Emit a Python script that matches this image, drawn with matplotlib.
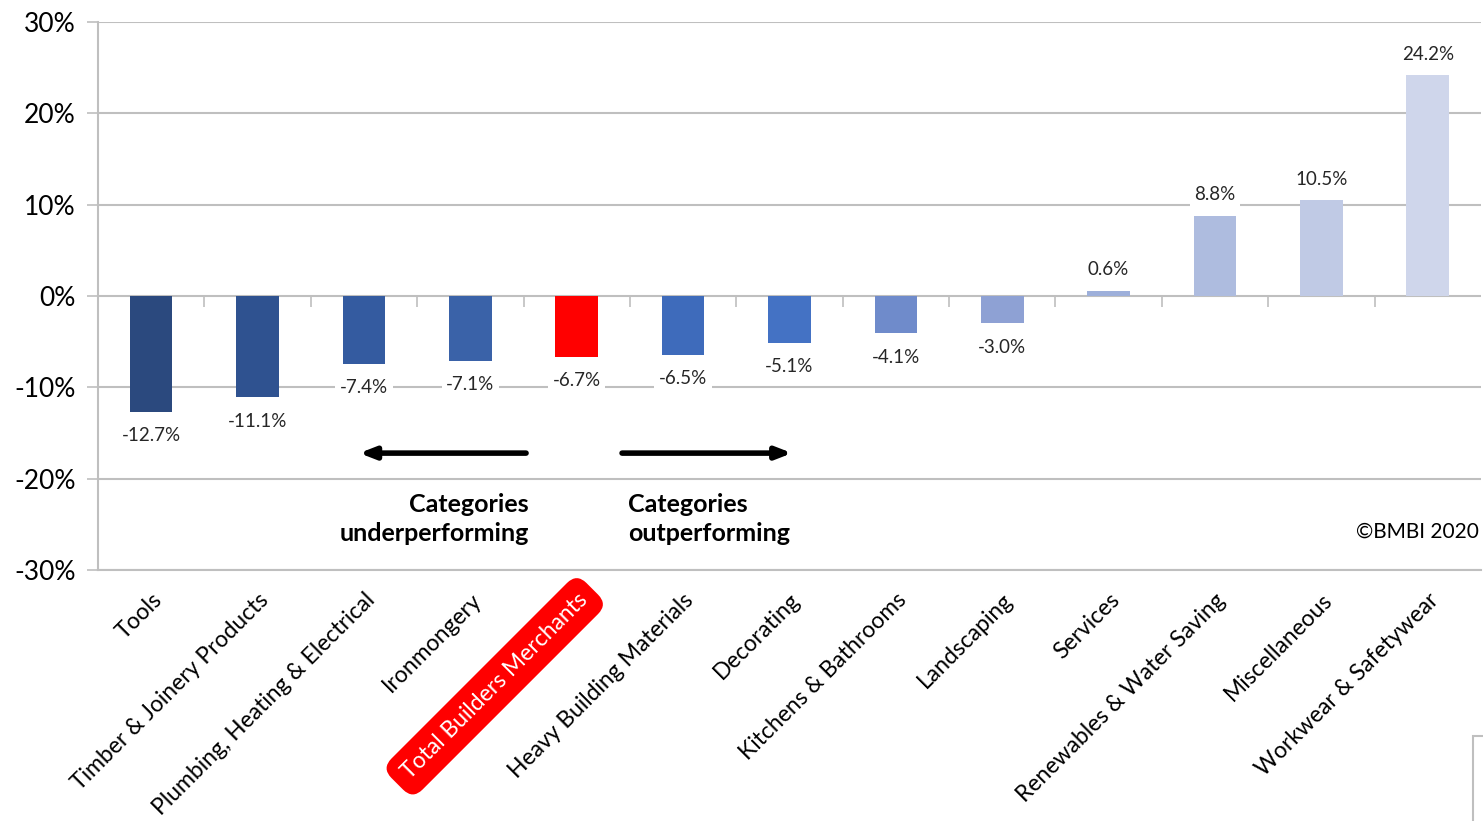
import matplotlib.pyplot as plt
import matplotlib.ticker as mticker
from matplotlib.patches import Rectangle

categories = ["Tools", "Timber & Joinery Products", "Plumbing, Heating & Electrical",
              "Ironmongery", "Total Builders Merchants", "Heavy Building Materials",
              "Decorating", "Kitchens & Bathrooms", "Landscaping", "Services",
              "Renewables & Water Saving", "Miscellaneous", "Workwear & Safetywear"]
values = [-12.7, -11.1, -7.4, -7.1, -6.7, -6.5, -5.1, -4.1, -3.0, 0.6, 8.8, 10.5, 24.2]
colors = ["#2B497E", "#2F5290", "#345BA0", "#3A62A8", "#FF0000", "#3E6BBB", "#4472C4",
          "#6F8BCB", "#8EA1D4", "#9DAFDA", "#AEBCDF", "#C0CAE5", "#CFD6EB"]
highlight = "Total Builders Merchants"

plt.rcParams['font.family'] = ['Lato', 'DejaVu Sans']

fig = plt.figure(figsize=(14.83, 8.21), dpi=100)
ax = fig.add_axes([0.0661, 0.3057, 0.9325, 0.6675])

x = list(range(len(categories)))
ax.bar(x, values, width=0.4, color=colors, zorder=3)

ax.set_xlim(-0.5, len(categories) - 0.5)
ax.set_ylim(-30, 30)
ax.yaxis.set_major_locator(mticker.MultipleLocator(10))
ax.yaxis.set_major_formatter(mticker.FuncFormatter(lambda v, p: f"{v:.0f}%"))
ax.grid(axis='y', color='#BFBFBF', linewidth=1.5, zorder=0)
ax.tick_params(axis='y', labelsize=19, length=8, width=1.2, color='#BFBFBF', pad=8)
for s in ['top', 'right']:
    ax.spines[s].set_visible(False)
ax.spines['left'].set_color('#BFBFBF')
ax.spines['left'].set_linewidth(1.5)
ax.spines['bottom'].set_color('#BFBFBF')
ax.spines['bottom'].set_linewidth(1.5)

# category labels at the bottom, rotated
ax.set_xticks(x)
ax.set_xticklabels(categories, rotation=45, ha='right', rotation_mode='anchor', fontsize=16.5)
ax.tick_params(axis='x', length=0, pad=14)
for lab in ax.get_xticklabels():
    if lab.get_text() == highlight:
        lab.set_color('white')
        lab.set_bbox(dict(boxstyle='round,pad=0.5,rounding_size=0.6', fc='#FF0000', ec='none'))

# tick marks on the zero line between categories
sec = ax.secondary_xaxis(0.5)
sec.set_xticks([i + 0.5 for i in x[:-1]])
sec.set_xticklabels([])
sec.tick_params(length=8, width=1.2, color='#BFBFBF', direction='in')
sec.spines['bottom'].set_visible(False)
sec.spines['top'].set_visible(False)

# data labels
for xi, v in zip(x, values):
    off = 15 if v >= 0 else -17
    ax.annotate(f"{v:.1f}%", (xi, v), xytext=(0, off), textcoords='offset points',
                ha='center', va='center', fontsize=13.5, color='#262626', zorder=4,
                bbox=dict(boxstyle='square,pad=0.25', fc='white', ec='none'))

# arrows and notes
ax.annotate("", xy=(1.93, -17.2), xytext=(3.55, -17.2),
            arrowprops=dict(arrowstyle='-|>,head_length=0.9,head_width=0.35', lw=4, color='black'))
ax.annotate("", xy=(6.05, -17.2), xytext=(4.4, -17.2),
            arrowprops=dict(arrowstyle='-|>,head_length=0.9,head_width=0.35', lw=4, color='black'))
ax.text(3.55, -24.4, "Categories\nunderperforming", ha='right', va='center',
        fontsize=18, fontweight='bold', linespacing=1.35)
ax.text(4.48, -24.4, "Categories\noutperforming", ha='left', va='center',
        fontsize=18, fontweight='bold', linespacing=1.35)
ax.text(12.48, -25.8, "\u00a9BMBI 2020", ha='right', va='center', fontsize=15)

fig.patches.append(Rectangle((0.9935, -0.01), 0.02, 0.113, transform=fig.transFigure,
                             fill=False, ec='#BFBFBF', lw=1.5))

fig.savefig("out.png", dpi=100)
